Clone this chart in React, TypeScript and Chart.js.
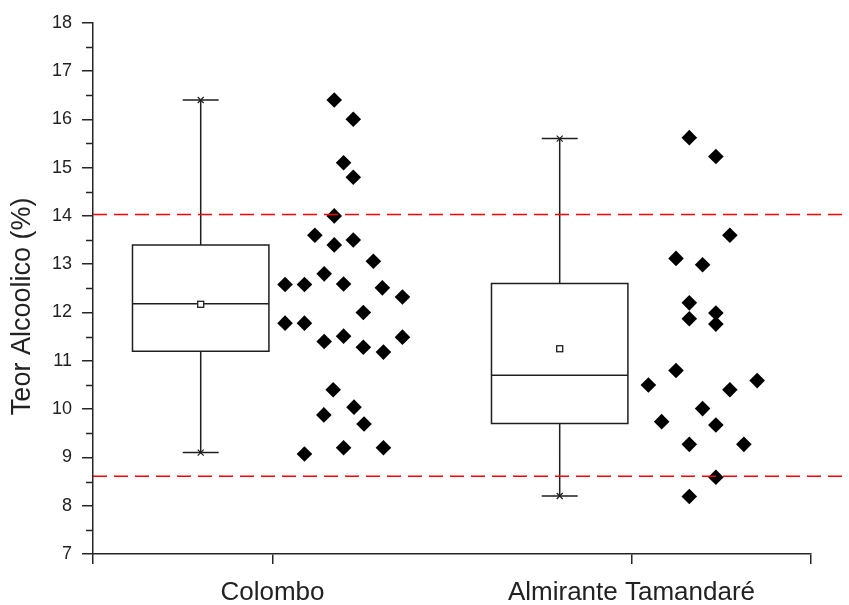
import React, { useEffect, useRef } from 'react';
import { Chart, registerables } from 'chart.js';

Chart.register(...registerables);

// ---- data ----
const categories = ['Colombo', 'Almirante Tamandaré'];
const categoryPositions = [1, 2];
const yMin = 7;
const yMax = 18;
const yTitle = 'Teor Alcoolico (%)';
const minorTickValues = [7.5, 8.5, 9.5, 10.5, 11.5, 12.5, 13.5, 14.5, 15.5, 16.5, 17.5];

const colomboX = [1.172, 1.225, 1.198, 1.225, 1.172, 1.118, 1.172, 1.225, 1.281, 1.144, 1.035, 1.089, 1.198, 1.306, 1.362, 1.253, 1.035, 1.089, 1.144, 1.198, 1.253, 1.309, 1.362, 1.169, 1.227, 1.143, 1.255, 1.089, 1.198, 1.309];
const colomboY = [16.4, 16.0, 15.1, 14.8, 14.0, 13.6, 13.4, 13.5, 13.06, 12.8, 12.58, 12.58, 12.59, 12.51, 12.32, 12.0, 11.78, 11.78, 11.4, 11.51, 11.28, 11.18, 11.49, 10.4, 10.04, 9.88, 9.69, 9.07, 9.2, 9.2];

const almiranteX = [2.161, 2.235, 2.274, 2.124, 2.198, 2.161, 2.235, 2.161, 2.235, 2.124, 2.047, 2.35, 2.274, 2.198, 2.084, 2.235, 2.161, 2.313, 2.235, 2.161];
const almiranteY = [15.62, 15.23, 13.6, 13.12, 12.99, 12.2, 11.99, 11.87, 11.76, 10.8, 10.5, 10.59, 10.4, 10.01, 9.74, 9.67, 9.27, 9.27, 8.59, 8.19];

const boxCenters = [0.8, 1.8];
const boxQ1 = [11.2, 9.7];
const boxMedian = [12.18, 10.7];
const boxQ3 = [13.4, 12.6];
const whiskerLow = [9.1, 8.2];
const whiskerHigh = [16.4, 15.6];
const boxMean = [12.17, 11.25];

const referenceLines = [14.03, 8.61];

// ---- style constants ----
const BOX_HALF = 0.19;
const CAP_HALF = 0.05;
const AXIS_COLOR = '#262626';
const TEXT_COLOR = '#222222';
const FONT_FAMILY = '"Liberation Sans", Arial, sans-serif';

const boxPlugin = {
  id: 'boxPlugin',
  beforeDatasetsDraw(chart: any) {
    const { ctx, scales } = chart;
    const xs = scales.x;
    const ys = scales.y;
    ctx.save();
    ctx.strokeStyle = '#1e1e1e';
    ctx.lineWidth = 1.5;
    for (let i = 0; i < boxCenters.length; i++) {
      const xc = xs.getPixelForValue(boxCenters[i]);
      const xl = xs.getPixelForValue(boxCenters[i] - BOX_HALF);
      const xr = xs.getPixelForValue(boxCenters[i] + BOX_HALF);
      const cl = xs.getPixelForValue(boxCenters[i] - CAP_HALF);
      const cr = xs.getPixelForValue(boxCenters[i] + CAP_HALF);
      const yq1 = ys.getPixelForValue(boxQ1[i]);
      const yq3 = ys.getPixelForValue(boxQ3[i]);
      const ymed = ys.getPixelForValue(boxMedian[i]);
      const ylo = ys.getPixelForValue(whiskerLow[i]);
      const yhi = ys.getPixelForValue(whiskerHigh[i]);
      const ymean = ys.getPixelForValue(boxMean[i]);
      ctx.beginPath();
      ctx.rect(xl, yq3, xr - xl, yq1 - yq3);
      ctx.moveTo(xl, ymed);
      ctx.lineTo(xr, ymed);
      ctx.moveTo(xc, yq3);
      ctx.lineTo(xc, yhi);
      ctx.moveTo(xc, yq1);
      ctx.lineTo(xc, ylo);
      ctx.moveTo(cl, yhi);
      ctx.lineTo(cr, yhi);
      ctx.moveTo(cl, ylo);
      ctx.lineTo(cr, ylo);
      ctx.stroke();
      // x markers at whisker ends
      ctx.beginPath();
      ctx.lineWidth = 1.2;
      for (const yy of [yhi, ylo]) {
        ctx.moveTo(xc - 3, yy - 3);
        ctx.lineTo(xc + 3, yy + 3);
        ctx.moveTo(xc + 3, yy - 3);
        ctx.lineTo(xc - 3, yy + 3);
      }
      ctx.stroke();
      // mean square
      ctx.fillStyle = '#ffffff';
      ctx.lineWidth = 1.3;
      ctx.fillRect(xc - 3, ymean - 3, 6, 6);
      ctx.strokeRect(xc - 3, ymean - 3, 6, 6);
      ctx.lineWidth = 1.5;
    }
    ctx.restore();
  },
  afterDraw(chart: any) {
    const { ctx, scales } = chart;
    const ys = scales.y;
    ctx.save();
    ctx.strokeStyle = AXIS_COLOR;
    ctx.lineWidth = 1.5;
    ctx.beginPath();
    for (const v of minorTickValues) {
      const y = Math.round(ys.getPixelForValue(v)) + 0.5;
      ctx.moveTo(ys.right - 7, y);
      ctx.lineTo(ys.right, y);
    }
    ctx.stroke();
    // y-axis title, slightly below the axis middle as in the reference
    const midY = (ys.getPixelForValue(yMin) + ys.getPixelForValue(yMax)) / 2 + 18;
    ctx.translate(22.5, midY);
    ctx.rotate(-Math.PI / 2);
    ctx.fillStyle = TEXT_COLOR;
    ctx.font = `27px ${FONT_FAMILY}`;
    ctx.textAlign = 'center';
    ctx.textBaseline = 'middle';
    ctx.fillText(yTitle, 0, 0);
    ctx.restore();
  },
};

export default function App() {
  const canvasRef = useRef<HTMLCanvasElement | null>(null);

  useEffect(() => {
    if (!canvasRef.current) return;
    const refDatasets = referenceLines.map((v) => ({
      type: 'line' as const,
      data: [
        { x: 0.5, y: v },
        { x: 2.7, y: v },
      ],
      borderColor: '#ff0000',
      borderWidth: 1.6,
      borderDash: [14, 7],
      pointRadius: 0,
      clip: false as any,
      order: 0,
    }));
    const chart = new Chart(canvasRef.current, {
      type: 'scatter',
      data: {
        datasets: [
          {
            label: categories[0],
            data: colomboX.map((x, i) => ({ x, y: colomboY[i] })),
            pointStyle: 'rectRot',
            pointRadius: 7.8,
            backgroundColor: '#000000',
            borderWidth: 0,
            order: 1,
          },
          {
            label: categories[1],
            data: almiranteX.map((x, i) => ({ x, y: almiranteY[i] })),
            pointStyle: 'rectRot',
            pointRadius: 7.8,
            backgroundColor: '#000000',
            borderWidth: 0,
            order: 1,
          },
          ...refDatasets,
        ] as any,
      },
      options: {
        animation: false,
        responsive: false,
        events: [],
        layout: { padding: { top: 22.7, right: 38, left: 0, bottom: 0 } },
        plugins: { legend: { display: false }, tooltip: { enabled: false } },
        scales: {
          x: {
            type: 'linear',
            min: 0.5,
            max: 2.5,
            afterBuildTicks: (scale: any) => {
              scale.ticks = [0.5, ...categoryPositions, 2.5].map((value) => ({ value }));
            },
            afterFit: (scale: any) => {
              scale.height = 51;
            },
            ticks: {
              autoSkip: false,
              maxRotation: 0,
              padding: 13,
              color: TEXT_COLOR,
              font: { family: FONT_FAMILY, size: 26 },
              callback: (value: any) => {
                const idx = categoryPositions.indexOf(Number(value));
                return idx >= 0 ? categories[idx] : '';
              },
            },
            grid: { drawOnChartArea: false, tickLength: 10, color: AXIS_COLOR, lineWidth: 1.5 },
            border: { color: AXIS_COLOR, width: 1.5 },
          },
          y: {
            type: 'linear',
            min: yMin,
            max: yMax,
            afterFit: (scale: any) => {
              scale.width = 93;
            },
            ticks: {
              stepSize: 1,
              padding: 10,
              color: TEXT_COLOR,
              font: { family: FONT_FAMILY, size: 18 },
            },
            grid: { drawOnChartArea: false, tickLength: 11, color: AXIS_COLOR, lineWidth: 1.5 },
            border: { color: AXIS_COLOR, width: 1.5 },
          },
        },
      },
      plugins: [boxPlugin],
    });
    return () => chart.destroy();
  }, []);

  return (
    <div style={{ position: 'fixed', left: 0, top: 0, width: 849, height: 605, background: '#ffffff' }}>
      <canvas ref={canvasRef} width={849} height={605} />
    </div>
  );
}
